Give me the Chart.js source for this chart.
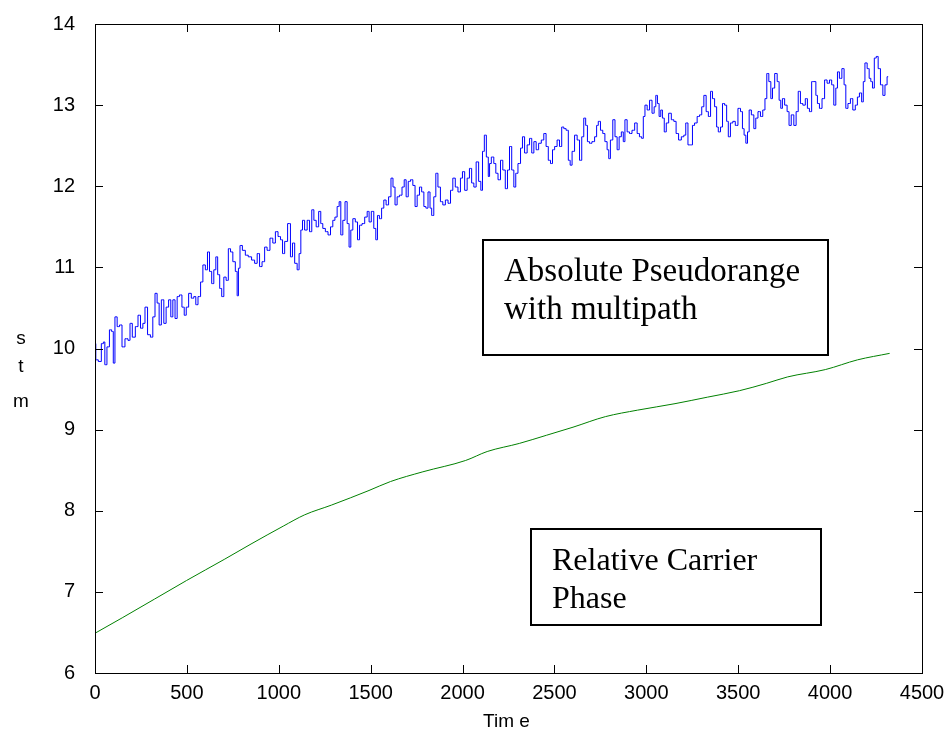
<!DOCTYPE html>
<html>
<head>
<meta charset="utf-8">
<script src="https://cdn.jsdelivr.net/npm/chart.js@4.4.1/dist/chart.umd.min.js"></script>
<style>
  html, body { margin: 0; padding: 0; background: #fff; }
</style>
</head>
<body>
<canvas id="rangeChart" width="951" height="735"></canvas>
<script>
// Pseudorange (noisy, with multipath) and carrier phase over time

const blueTime = [
    0, 9, 27, 42, 49, 58, 72, 85, 96, 103, 114, 127, 140, 154, 172, 187, 194, 212, 227, 241,
    254, 267, 277, 295, 308, 321, 332, 344, 354, 368, 381, 393, 408, 417, 430, 441, 453, 466, 480, 491,
    502, 517, 531, 544, 553, 568, 581, 593, 608, 616, 630, 640, 653, 662, 673, 684, 695, 707, 720, 731,
    744, 756, 771, 776, 785, 793, 811, 825, 843, 861, 876, 889, 902, 916, 930, 943, 961, 974, 989, 1003,
    1016, 1025, 1039, 1057, 1070, 1079, 1094, 1106, 1115, 1125, 1133, 1148, 1161, 1174, 1185, 1197, 1210, 1224, 1233, 1246,
    1261, 1275, 1288, 1300, 1311, 1324, 1333, 1342, 1355, 1366, 1378, 1387, 1397, 1409, 1424, 1433, 1446, 1460, 1475, 1487,
    1496, 1511, 1523, 1533, 1541, 1554, 1565, 1578, 1590, 1605, 1616, 1627, 1638, 1650, 1663, 1678, 1687, 1699, 1710, 1723,
    1736, 1747, 1759, 1772, 1783, 1796, 1805, 1819, 1827, 1837, 1850, 1859, 1873, 1886, 1899, 1914, 1928, 1941, 1953, 1968,
    1982, 1995, 2004, 2019, 2031, 2044, 2055, 2068, 2080, 2095, 2104, 2113, 2124, 2135, 2145, 2149, 2164, 2176, 2186, 2200,
    2213, 2225, 2240, 2249, 2262, 2273, 2285, 2294, 2309, 2322, 2330, 2345, 2358, 2371, 2382, 2394, 2407, 2421, 2436, 2448,
    2461, 2472, 2485, 2494, 2508, 2521, 2534, 2545, 2557, 2570, 2581, 2590, 2602, 2617, 2630, 2643, 2654, 2665, 2675, 2684,
    2697, 2711, 2726, 2733, 2744, 2757, 2769, 2780, 2793, 2798, 2811, 2824, 2835, 2847, 2857, 2871, 2878, 2889, 2902, 2915,
    2929, 2944, 2956, 2969, 2980, 2987, 2998, 3011, 3024, 3038, 3047, 3056, 3065, 3074, 3083, 3092, 3103, 3114, 3129, 3143,
    3156, 3168, 3183, 3198, 3210, 3219, 3234, 3247, 3255, 3270, 3283, 3296, 3307, 3319, 3332, 3343, 3356, 3364, 3379, 3386,
    3397, 3410, 3419, 3433, 3441, 3451, 3464, 3477, 3491, 3506, 3519, 3527, 3537, 3546, 3555, 3564, 3579, 3591, 3600, 3615,
    3627, 3640, 3651, 3660, 3673, 3682, 3691, 3706, 3718, 3727, 3736, 3745, 3760, 3772, 3781, 3796, 3809, 3821, 3832, 3845,
    3858, 3872, 3881, 3894, 3905, 3918, 3927, 3935, 3949, 3963, 3977, 3990, 4003, 4014, 4026, 4036, 4044, 4057, 4071, 4081,
    4090, 4104, 4117, 4130, 4144, 4153, 4166, 4177, 4184, 4195, 4208, 4217, 4226, 4235, 4246, 4256, 4267, 4281, 4293, 4304,
    4316
];

const blueRange = [
    10.06, 9.86, 9.84, 10.06, 10.08, 9.80, 10.02, 10.23, 10.21, 9.82, 10.39, 10.27, 10.29, 10.02, 10.12, 10.10, 10.31, 10.14, 10.27, 10.41,
    10.25, 10.31, 10.51, 10.17, 10.14, 10.39, 10.68, 10.56, 10.29, 10.60, 10.31, 10.51, 10.60, 10.39, 10.60, 10.37, 10.64, 10.66, 10.51, 10.41,
    10.51, 10.68, 10.62, 10.64, 10.54, 10.64, 10.82, 11.03, 10.97, 11.19, 10.95, 10.80, 10.97, 11.13, 10.91, 10.74, 10.64, 10.88, 10.84, 11.23,
    11.19, 11.07, 10.95, 10.65, 10.99, 11.27, 11.21, 11.15, 11.13, 11.09, 11.05, 11.17, 11.01, 11.07, 11.25, 11.21, 11.36, 11.30, 11.44, 11.38,
    11.34, 11.17, 11.32, 11.54, 11.13, 11.30, 11.05, 10.97, 11.17, 11.46, 11.58, 11.46, 11.58, 11.44, 11.71, 11.58, 11.50, 11.69, 11.54, 11.48,
    11.44, 11.40, 11.50, 11.58, 11.62, 11.75, 11.81, 11.40, 11.58, 11.81, 11.54, 11.25, 11.46, 11.60, 11.56, 11.34, 11.52, 11.54, 11.62, 11.69,
    11.56, 11.69, 11.48, 11.34, 11.64, 11.60, 11.73, 11.83, 11.77, 11.87, 12.10, 11.99, 11.77, 11.87, 11.89, 11.99, 12.08, 11.87, 12.06, 12.08,
    12.01, 11.75, 11.89, 11.99, 11.93, 11.75, 11.73, 11.93, 11.73, 11.64, 11.87, 12.16, 11.99, 11.81, 11.77, 11.83, 11.79, 11.95, 12.10, 11.99,
    11.93, 12.10, 12.18, 11.95, 12.10, 12.22, 12.04, 11.99, 12.30, 12.06, 11.95, 12.43, 12.63, 12.36, 12.12, 12.28, 12.36, 12.28, 12.16, 12.08,
    12.32, 12.20, 11.97, 12.20, 12.49, 12.20, 11.99, 12.16, 12.28, 12.47, 12.61, 12.41, 12.51, 12.59, 12.41, 12.55, 12.45, 12.53, 12.57, 12.65,
    12.49, 12.32, 12.28, 12.45, 12.49, 12.57, 12.49, 12.73, 12.71, 12.69, 12.32, 12.26, 12.43, 12.63, 12.57, 12.32, 12.61, 12.84, 12.75, 12.55,
    12.53, 12.55, 12.61, 12.75, 12.80, 12.69, 12.65, 12.55, 12.45, 12.34, 12.57, 12.82, 12.61, 12.45, 12.61, 12.67, 12.55, 12.82, 12.67, 12.65,
    12.69, 12.78, 12.65, 12.61, 12.59, 12.86, 13.00, 12.94, 13.06, 12.90, 12.98, 13.12, 13.02, 12.86, 12.94, 12.84, 12.67, 12.78, 12.90, 12.82,
    12.80, 12.65, 12.57, 12.61, 12.63, 12.78, 12.51, 12.51, 12.75, 12.78, 12.86, 12.88, 12.98, 13.12, 12.92, 12.86, 13.17, 13.08, 12.98, 12.73,
    12.67, 12.73, 13.02, 13.00, 12.80, 12.61, 12.78, 12.80, 12.75, 12.96, 12.92, 12.71, 12.63, 12.53, 12.67, 12.94, 12.88, 12.71, 12.84, 12.92,
    12.86, 12.94, 13.08, 13.39, 13.29, 13.08, 13.21, 13.39, 13.29, 13.06, 12.96, 13.08, 13.00, 12.92, 12.75, 12.88, 12.75, 12.92, 13.17, 13.02,
    13.00, 13.08, 12.96, 12.92, 13.29, 13.29, 13.12, 13.02, 12.96, 13.08, 13.31, 13.27, 13.31, 13.25, 13.00, 13.21, 13.41, 13.33, 13.45, 13.25,
    12.96, 13.02, 13.08, 12.94, 13.00, 13.10, 13.15, 13.04, 13.29, 13.52, 13.45, 13.33, 13.29, 13.21, 13.58, 13.60, 13.45, 13.25, 13.12, 13.25,
    13.35
];

const greenTime = [
    0, 148, 323, 498, 703, 849, 1024, 1141, 1287, 1491, 1608, 1784, 2017, 2134,
    2309, 2456, 2601, 2777, 2952, 3156, 3332, 3507, 3653, 3769, 3974, 4149, 4324
];

const greenPhase = [
    6.49, 6.68, 6.91, 7.14, 7.40, 7.59, 7.81, 7.95, 8.07, 8.25, 8.36, 8.48, 8.62, 8.73,
    8.83, 8.93, 9.03, 9.16, 9.24, 9.32, 9.40, 9.48, 9.57, 9.65, 9.74, 9.86, 9.94
];

const xTicks = [0, 500, 1000, 1500, 2000, 2500, 3000, 3500, 4000, 4500];
const yTicks = [6, 7, 8, 9, 10, 11, 12, 13, 14];

const noteLines = [
    ['Absolute Pseudorange', 'with multipath'],
    ['Relative Carrier', 'Phase'],
];

// note boxes in data units: [left, right, top, bottom]
const noteBoxes = [
    [2111, 3990, 11.34, 9.92],
    [2372, 3950, 7.77, 6.59],
];
const noteSizes = [33, 32];

const axisFont = '"Liberation Sans", Arial, sans-serif';
const noteFont = '"Liberation Serif", "Times New Roman", serif';

// MATLAB-like frame with inward ticks, axis titles and the two text boxes
const framePlugin = {
    id: 'frame',
    afterDatasetsDraw(chart) {
        const ctx = chart.ctx;
        const area = chart.chartArea;
        const xs = chart.scales.x;
        const ys = chart.scales.y;
        const tick = 8;

        ctx.save();
        ctx.strokeStyle = '#000';
        ctx.lineWidth = 1;
        ctx.strokeRect(area.left + 0.5, area.top + 0.5, area.right - area.left, area.bottom - area.top);

        ctx.beginPath();
        xTicks.forEach((v) => {
            const px = Math.round(xs.getPixelForValue(v)) + 0.5;
            ctx.moveTo(px, area.bottom);
            ctx.lineTo(px, area.bottom - tick);
            ctx.moveTo(px, area.top);
            ctx.lineTo(px, area.top + tick);
        });
        yTicks.forEach((v) => {
            const py = Math.round(ys.getPixelForValue(v)) + 0.5;
            ctx.moveTo(area.left, py);
            ctx.lineTo(area.left + tick, py);
            ctx.moveTo(area.right, py);
            ctx.lineTo(area.right - tick, py);
        });
        ctx.stroke();

        // axis titles
        ctx.fillStyle = '#000';
        ctx.font = '19px ' + axisFont;
        ctx.textAlign = 'center';
        ctx.textBaseline = 'middle';
        ctx.fillText('Tim e', (area.left + area.right) / 2 - 2, 722);
        ctx.fillText('s', 21, 339);
        ctx.fillText('t', 21, 367);
        ctx.fillText('m', 21, 402);

        // text boxes
        noteBoxes.forEach((b, i) => {
            const x0 = Math.round(xs.getPixelForValue(b[0]));
            const x1 = Math.round(xs.getPixelForValue(b[1]));
            const y0 = Math.round(ys.getPixelForValue(b[2]));
            const y1 = Math.round(ys.getPixelForValue(b[3]));
            ctx.fillStyle = '#fff';
            ctx.fillRect(x0, y0, x1 - x0, y1 - y0);
            ctx.strokeStyle = '#000';
            ctx.lineWidth = 2;
            ctx.strokeRect(x0, y0, x1 - x0, y1 - y0);

            ctx.fillStyle = '#000';
            ctx.font = noteSizes[i] + 'px ' + noteFont;
            ctx.textAlign = 'left';
            ctx.textBaseline = 'alphabetic';
            noteLines[i].forEach((line, j) => {
                ctx.fillText(line, x0 + 21, y0 + 41 + j * 38);
            });
        });
        ctx.restore();
    },
};

const ctx = document.getElementById('rangeChart').getContext('2d');
new Chart(ctx, {
    type: 'line',
    data: {
        datasets: [
            {
                label: 'Absolute Pseudorange with multipath',
                data: blueTime.map((t, i) => ({ x: t, y: blueRange[i] })),
                borderColor: '#0000ff',
                borderWidth: 1,
                pointRadius: 0,
                stepped: 'middle',
                fill: false,
            },
            {
                label: 'Relative Carrier Phase',
                data: greenTime.map((t, i) => ({ x: t, y: greenPhase[i] })),
                borderColor: '#008000',
                borderWidth: 1,
                pointRadius: 0,
                cubicInterpolationMode: 'monotone',
                fill: false,
            },
        ],
    },
    options: {
        responsive: false,
        animation: false,
        devicePixelRatio: 1,
        layout: {
            padding: { top: 24, right: 29, left: 0, bottom: 0 },
        },
        plugins: {
            legend: { display: false },
            tooltip: { enabled: false },
        },
        scales: {
            x: {
                type: 'linear',
                min: 0,
                max: 4500,
                afterBuildTicks: (scale) => {
                    scale.ticks = xTicks.map((v) => ({ value: v }));
                },
                afterFit: (scale) => {
                    scale.height = 62;
                },
                grid: { display: false },
                border: { display: false },
                ticks: {
                    color: '#000',
                    padding: 0,
                    maxRotation: 0,
                    callback: (v) => String(v),
                    font: { family: axisFont, size: 20 },
                },
            },
            y: {
                min: 6,
                max: 14,
                afterBuildTicks: (scale) => {
                    scale.ticks = yTicks.map((v) => ({ value: v }));
                },
                afterFit: (scale) => {
                    scale.width = 95;
                },
                grid: { display: false },
                border: { display: false },
                ticks: {
                    color: '#000',
                    padding: 12,
                    callback: (v) => String(v),
                    font: { family: axisFont, size: 20 },
                },
            },
        },
    },
    plugins: [framePlugin],
});
</script>
</body>
</html>
